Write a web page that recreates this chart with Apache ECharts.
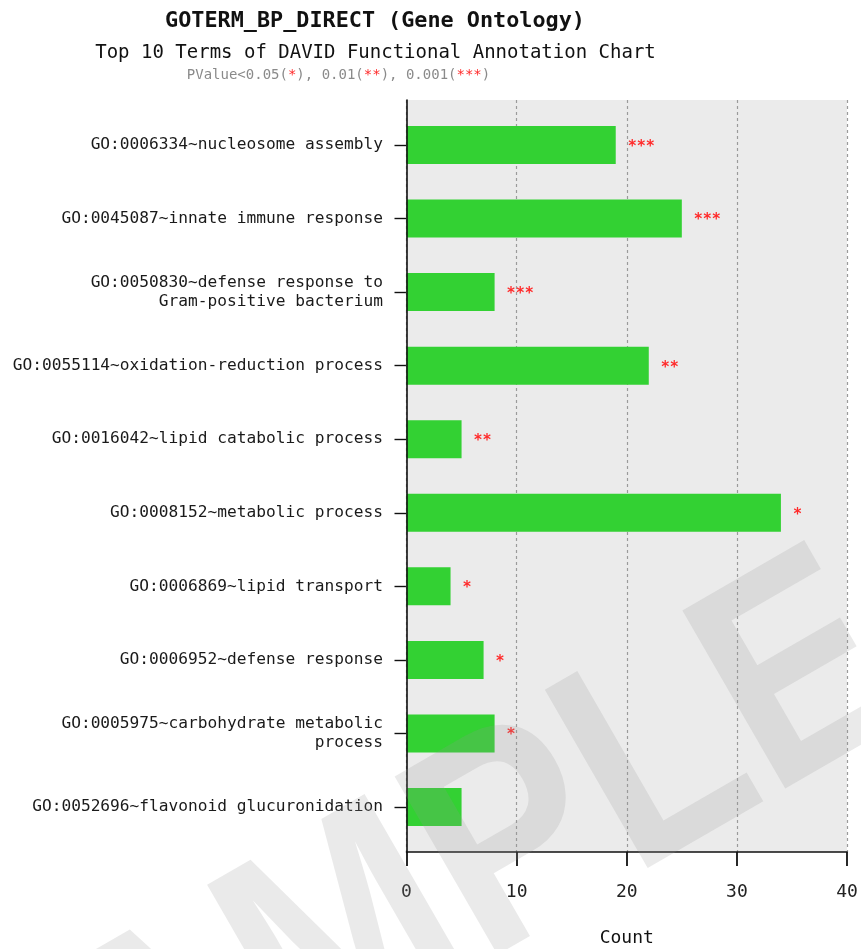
<!DOCTYPE html>
<html>
<head>
<meta charset="utf-8">
<style>html,body{margin:0;padding:0;background:#fff}#c{width:861px;height:949px}</style>
<script src="https://cdn.jsdelivr.net/npm/echarts@6/dist/echarts.min.js"></script>
</head>
<body>
<div id="c"></div>
<script>
const categories = [
  'GO:0006334~nucleosome assembly',
  'GO:0045087~innate immune response',
  'GO:0050830~defense response to\nGram-positive bacterium',
  'GO:0055114~oxidation-reduction process',
  'GO:0016042~lipid catabolic process',
  'GO:0008152~metabolic process',
  'GO:0006869~lipid transport',
  'GO:0006952~defense response',
  'GO:0005975~carbohydrate metabolic\nprocess',
  'GO:0052696~flavonoid glucuronidation'
];
const counts = [19, 25, 8, 22, 5, 34, 4, 7, 8, 5];
const stars = ['***', '***', '***', '**', '**', '*', '*', '*', '*', ''];
const xMin = 0, xMax = 40, xStep = 10;

const MONO = '"DejaVu Sans Mono", "Liberation Mono", monospace';
const chart = echarts.init(document.getElementById('c'), null, {renderer: 'canvas'});

const L = 406.5, W = 440.5;
chart.setOption({
  animation: false,
  grid: [
    {left: L, top: 100, width: W, height: 752, show: true, backgroundColor: '#ebebeb', borderWidth: 0, z: 0,
     containLabel: false, outerBoundsMode: 'none'},
    {left: L, top: 108.2, width: W, height: 735.6, z: 2, containLabel: false, outerBoundsMode: 'none'}
  ],
  xAxis: [
    {
      type: 'value', gridIndex: 0, min: xMin, max: xMax, interval: xStep, position: 'bottom',
      axisLine: {show: true, onZero: false, lineStyle: {color: '#111', width: 1.6}},
      axisTick: {show: true, inside: false, length: 14, lineStyle: {color: '#111', width: 1.8}},
      axisLabel: {margin: 31, fontFamily: MONO, fontSize: 18, color: '#222'},
      splitLine: {show: true, lineStyle: {color: '#9a9a9a', type: [3, 3], width: 1.2}},
      name: 'Count', nameLocation: 'middle', nameGap: 77,
      nameTextStyle: {fontFamily: MONO, fontSize: 18, color: '#111'},
      z: 1
    },
    {
      type: 'value', gridIndex: 1, min: xMin, max: xMax, interval: xStep, show: false
    }
  ],
  yAxis: [
    {
      type: 'value', gridIndex: 0,
      axisLine: {show: true, onZero: false, lineStyle: {color: '#111', width: 1.6}},
      axisTick: {show: false}, axisLabel: {show: false}, splitLine: {show: false}, z: 5
    },
    {
      type: 'category', gridIndex: 1, data: categories, inverse: true,
      axisLine: {show: false},
      axisTick: {show: true, alignWithLabel: true, length: 12, lineStyle: {color: '#111', width: 1.4}},
      axisLabel: {margin: 23.5, fontFamily: MONO, fontSize: 16.2, color: '#1a1a1a', lineHeight: 19, align: 'right'},
      splitLine: {show: false}
    }
  ],
  series: [{
    type: 'bar', xAxisIndex: 1, yAxisIndex: 1, data: counts, barWidth: 38,
    itemStyle: {color: '#33d133'},
    label: {
      show: true, position: 'right', distance: 12,
      formatter: p => stars[p.dataIndex],
      color: '#ff2a2a', fontFamily: MONO, fontSize: 15, fontWeight: 'bold', offset: [0, 2]
    },
    z: 2
  }],
  graphic: [
    {type: 'text', z: 10, style: {text: 'GOTERM_BP_DIRECT (Gene Ontology)', x: 375, y: 21, textAlign: 'center', textVerticalAlign: 'middle',
      font: 'bold 21.8px ' + MONO, fill: '#111'}},
    {type: 'text', z: 10, style: {text: 'Top 10 Terms of DAVID Functional Annotation Chart', x: 375.5, y: 53, textAlign: 'center', textVerticalAlign: 'middle',
      font: '19px ' + MONO, fill: '#111'}},
    {type: 'text', z: 10, style: {
      text: '{g|PValue<0.05(}{r|*}{g|), 0.01(}{r|**}{g|), 0.001(}{r|***}{g|)}',
      x: 338.5, y: 75, textAlign: 'center', textVerticalAlign: 'middle',
      rich: {
        g: {fontFamily: MONO, fontSize: 14, fill: '#8a8a8a'},
        r: {fontFamily: MONO, fontSize: 14, fill: '#ff2a2a'}
      }
    }},
    {type: 'text', z: 100, x: 410, y: 910, rotation: Math.PI / 6, scaleY: 1.15, silent: true, style: {
      text: 'SAMPLE', x: 0, y: 0, textAlign: 'center', textVerticalAlign: 'middle',
      font: 'bold 260px "Liberation Sans", Arial, sans-serif', fill: 'rgba(150,150,150,0.2)'
    }}
  ]
});
</script>
</body>
</html>
